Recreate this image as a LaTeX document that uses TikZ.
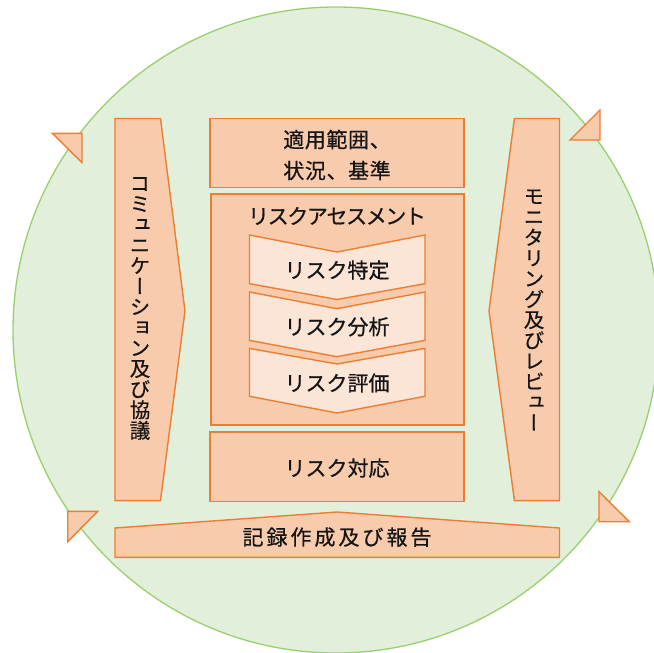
\documentclass[tikz,border=0pt]{standalone}
\usepackage{fontspec}
\setmainfont{Noto Sans CJK JP}
\newfontfamily\jp[FakeBold=0.6]{Noto Sans CJK JP}
\newfontfamily\jpv[RawFeature=+vert,FakeBold=0.6]{Noto Sans CJK JP}
\definecolor{cfill}{HTML}{E2EFDA}
\definecolor{cline}{HTML}{9ACF6E}
\definecolor{ofill}{HTML}{F8CBAD}
\definecolor{oline}{HTML}{ED7D31}
\definecolor{pfill}{HTML}{FBE5D6}
\definecolor{txt}{HTML}{151515}
\makeatletter
\newcommand\spaced[2]{\def\lsp{#1}\spacedA#2\relax}
\def\spacedA#1{#1\spacedB}
\def\spacedB#1{\ifx#1\relax\else\kern\lsp #1\expandafter\spacedB\fi}
\makeatother
\begin{document}
\begin{tikzpicture}[x=1pt,y=-1pt,
  oshape/.style={draw=oline,fill=ofill,line width=1.4pt,line join=miter},
  chev/.style={draw=oline,fill=pfill,line width=1.4pt,line join=miter},
  obox/.style={draw=oline,fill=ofill,line width=1.4pt,inner sep=0pt},
  lbl/.style={text=txt,font=\jp\fontsize{21}{25}\selectfont,inner sep=0pt,anchor=base},
  vlbl/.style={text=txt,font=\jpv\fontsize{20.5}{20.6}\selectfont,align=center,inner sep=0pt}]
\useasboundingbox (0,0) rectangle (654,653);
\fill[white] (0,0) rectangle (654,653);
\draw[draw=cline,fill=cfill,line width=1.3pt] (336,330) circle[radius=323pt];

% corner triangles
\draw[oshape] (52.3,133.3) -- (82,133.3) -- (82,162.7) -- cycle;
\draw[oshape] (570,140) -- (600,140) -- (600,110) -- cycle;
\draw[oshape] (67.7,511.3) -- (97.7,511.3) -- (67.7,541.7) -- cycle;
\draw[oshape] (599,491.7) -- (599,521.7) -- (629.3,521.7) -- cycle;

% side arrows
\draw[oshape] (115,118.5) -- (160.5,118.5) -- (185,311) -- (160.5,500.6) -- (115,500.6) -- cycle;
\draw[oshape] (559.5,118.5) -- (514.4,118.5) -- (489,311) -- (514.4,500.6) -- (559.5,500.6) -- cycle;
\draw[oshape] (115,528) -- (337,512) -- (559.5,528) -- (559.5,557.4) -- (115,557.4) -- cycle;

% boxes
\node[obox,minimum width=254pt,minimum height=69pt] (scopebox) at (337,153) {};
\node[obox,minimum width=253pt,minimum height=231pt] (assessbox) at (337.6,309.5) {};
\node[obox,minimum width=254pt,minimum height=69.5pt] (treatbox) at (337,466.8) {};

% chevrons
\draw[chev] (249.5,235) -- (337,252) -- (425,235) -- (425,283.7) -- (337,299.5) -- (249.5,283.7) -- cycle;
\draw[chev] (249.5,292) -- (337,308.7) -- (425,292) -- (425,340.4) -- (337,356.7) -- (249.5,340.4) -- cycle;
\draw[chev] (249.5,348.4) -- (337,364) -- (425,348.4) -- (425,396.3) -- (337,413) -- (249.5,396.3) -- cycle;

% labels
\node[lbl] (scopeA) at (337,147.5) {\spaced{0.6pt}{適用範囲、}};
\node[lbl] (scopeB) at (337,178.5) {\spaced{0.6pt}{状況、基準}};
\node[lbl] (assess) at (337,224) {\spaced{-1.4pt}{リスクアセスメント}};
\node[lbl] (ident) at (337,278) {リスク特定};
\node[lbl] (analy) at (337,334.7) {リスク分析};
\node[lbl] (evalu) at (337,391) {リスク評価};
\node[lbl] (treat) at (337,476) {リスク対応};
\node[lbl] (record) at (337,545) {\spaced{3pt}{記録作成及び報告}};

\node[vlbl] (comm) at (140,308.5) {コ\\ミ\\ュ\\ニ\\ケ\\ー\\シ\\ョ\\ン\\及\\び\\協\\議};
\node[vlbl] (monit) at (534,310) {モ\\ニ\\タ\\リ\\ン\\グ\\及\\び\\レ\\ビ\\ュ\\ー};
\end{tikzpicture}
\end{document}
